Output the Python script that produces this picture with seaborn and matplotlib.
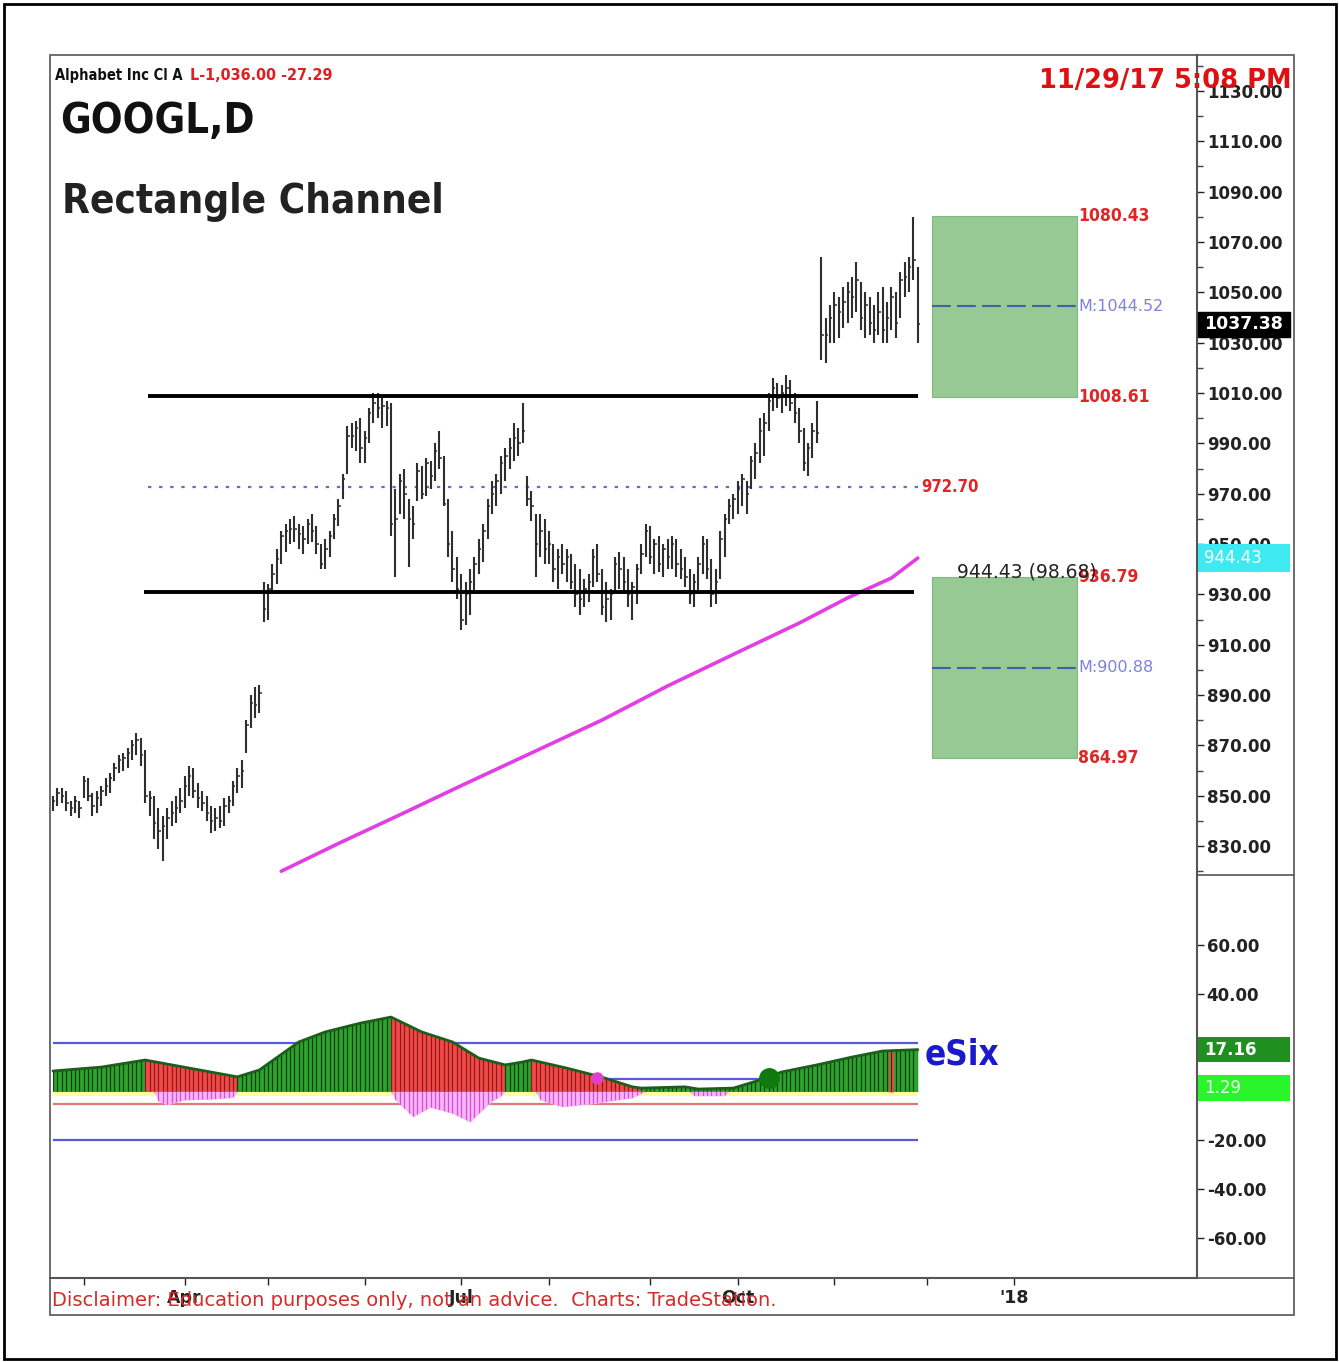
import numpy as np
import pandas as pd
import matplotlib
matplotlib.use('Agg')
import matplotlib.pyplot as plt
import matplotlib.transforms as mtransforms
from matplotlib.patches import Rectangle, Polygon
from matplotlib.lines import Line2D
import seaborn as sns

sns.set_style('white')
plt.rcParams['font.family'] = ['DejaVu Sans']
COND = dict(family='DejaVu Sans', fontstretch='condensed', weight='bold')

########## data ##########
holidays = pd.to_datetime(['2017-02-20', '2017-04-14', '2017-05-29', '2017-07-04',
                           '2017-09-04', '2017-11-23', '2017-12-25', '2018-01-01'])
sessions = pd.bdate_range('2017-02-17', '2018-03-30')
sessions = sessions[~sessions.isin(holidays)]

# daily bars GOOGL, 2017-02-17 .. 2017-11-29 (one group = one week)
high = [850, 853, 853, 852, 848,  850, 848, 858, 857, 851,  852, 854, 857, 859, 863,
        866, 867, 869, 872, 875,  873, 868, 852, 850, 845,  842, 845, 848, 850, 853,
        858, 862, 861, 855, 852,  850, 846, 845, 846, 849,  850, 856, 861, 864, 880,
        890, 893, 894, 935, 934,  942, 948, 955, 958, 960,  961, 958, 957, 960, 962,
        957, 950, 952, 955, 962,  968, 978, 997, 998, 999,  1000, 995, 1004, 1010, 1010,
        1008, 1007, 1006, 972, 978,  980, 968, 965, 982, 981,  984, 983, 990, 995, 985,
        968, 955, 945, 938, 935,  940, 945, 952, 958, 968,  975, 978, 985, 988, 992,
        998, 996, 1006, 977, 971,  962, 962, 960, 955, 950,  948, 950, 948, 946, 942,
        940, 936, 938, 948, 950,  940, 935, 932, 945, 947,  945, 940, 935, 942, 950,
        958, 957, 952, 953, 950,  952, 953, 952, 948, 945,  940, 938, 945, 953, 952,
        944, 940, 955, 962, 968,  970, 975, 978, 975, 985,  990, 1000, 1002, 1010, 1016,
        1014, 1013, 1017, 1015, 1010,  1004, 996, 990, 998, 1007,  1064, 1040, 1045, 1050, 1048,
        1052, 1054, 1056, 1062, 1054,  1050, 1048, 1045, 1050, 1052,  1046, 1052, 1050, 1058, 1062,
        1064, 1080, 1060]
low = [844, 846, 847, 844, 842,  843, 841, 849, 848, 842,  843, 846, 850, 851, 856,
       859, 860, 861, 864, 866,  862, 847, 842, 833, 829,  824, 833, 838, 839, 843,
       845, 850, 849, 845, 844,  840, 835, 836, 837, 838,  843, 846, 851, 853, 867,
       877, 881, 883, 919, 920,  930, 934, 942, 947, 950,  951, 948, 946, 950, 951,
       946, 940, 940, 945, 952,  957, 968, 978, 988, 987,  982, 982, 990, 998, 1000,
       996, 997, 953, 937, 962,  960, 941, 952, 967, 968,  969, 972, 975, 980, 965,
       945, 935, 928, 916, 918,  922, 930, 938, 943, 952,  962, 965, 970, 975, 980,
       983, 985, 990, 965, 959,  937, 945, 942, 942, 935,  932, 938, 935, 932, 925,
       922, 925, 927, 933, 935,  922, 919, 920, 930, 932,  930, 925, 920, 926, 938,
       945, 942, 938, 939, 937,  940, 940, 937, 936, 933,  926, 925, 930, 938, 936,
       925, 926, 936, 945, 958,  960, 962, 965, 962, 972,  976, 982, 985, 995, 1003,
       1004, 1002, 1005, 1003, 998,  990, 979, 977, 984, 990,  1023, 1022, 1030, 1030, 1032,
       1036, 1038, 1040, 1042, 1035,  1032, 1033, 1030, 1033, 1030,  1030, 1035, 1032, 1040, 1048,
       1050, 1055, 1030]
close = [848, 851, 850, 847, 845,  848, 845, 856, 850, 846,  849, 852, 854, 857, 861,
         864, 865, 867, 870, 872,  866, 850, 849, 839, 836,  838, 841, 843, 845, 848,
         854, 858, 852, 849, 847,  843, 840, 841, 840, 846,  848, 854, 858, 860, 878,
         887, 886, 891, 924, 932,  938, 944, 953, 955, 956,  956, 954, 952, 958, 955,
         950, 942, 948, 953, 960,  965, 976, 993, 993, 996,  988, 992, 1002, 1006, 1004,
         1005, 1004, 958, 960, 975,  970, 960, 958, 979, 970,  982, 977, 987, 984, 966,
         950, 940, 932, 920, 930,  935, 942, 948, 955, 965,  970, 975, 982, 985, 988,
         992, 990, 995, 968, 965,  950, 955, 948, 950, 940,  945, 942, 945, 935, 930,
         928, 932, 935, 945, 938,  925, 928, 930, 942, 940,  935, 930, 933, 940, 946,
         955, 945, 950, 942, 948,  945, 950, 942, 940, 937,  930, 935, 942, 950, 940,
         930, 935, 952, 960, 965,  968, 972, 976, 970, 983,  986, 995, 998, 1007, 1012,
         1008, 1010, 1012, 1006, 1002,  995, 982, 988, 995, 994,  1033, 1033, 1040, 1045, 1042,
         1046, 1050, 1048, 1055, 1040,  1045, 1038, 1035, 1042, 1035,  1040, 1048, 1038, 1055, 1056,
         1060, 1063, 1037.38]

# moving average line (bar index, value)
ma_idx = [52, 65, 79, 93, 109, 125, 140, 156, 170, 181, 191, 197]
ma_val = [820, 831, 842.4, 854, 867, 880, 893.6, 907, 918.6, 928.6, 936.5, 944.43]

channel_top = 1008.8
channel_bot = 930.95
channel_mid = 972.70

box_hi = [1080.43, 936.79]
box_mid = [1044.52, 900.88]
box_lo = [1008.61, 864.97]

last_price = 1037.38
ma_last = 944.43
ma_label = '944.43 (98.68)'

# eSix oscillator (bar index, value)
esix_idx = [0, 11, 21, 31, 42, 47, 56, 62, 70, 77, 84, 91, 97, 103, 107, 109, 117,
            125, 132, 134, 144, 147, 155, 161, 166, 174, 182, 189, 197]
esix_val = [8.4, 10.0, 12.9, 9.6, 6.0, 8.8, 20.3, 24.4, 28.0, 30.5, 24.4, 20.3, 13.7,
            10.9, 12.1, 12.9, 9.6, 5.9, 1.9, 1.4, 1.9, 1.0, 1.4, 4.7, 8.0, 10.9, 14.1,
            16.6, 17.16]
# colour runs of the histogram: (start, end, rising?)
esix_runs = [(0, 21, True), (21, 42, False), (42, 77, True), (77, 103, False),
             (103, 109, True), (109, 134, False), (134, 197, True)]
red_bar = (191, 16.8)
esix_neg_idx = [0, 23, 24, 26, 30, 36, 41, 42, 77, 78, 82, 86, 91, 95, 100, 102, 103,
                110, 111, 116, 123, 132, 135, 145, 146, 153, 154, 197]
esix_neg_val = [0, 0, -4.0, -5.5, -3.5, -3.2, -2.5, 0, 0, -3.5, -10.4, -6.5, -9.0, -12.5,
                -4.0, -2.0, 0, 0, -3.5, -6.3, -5.0, -2.6, 0, 0, -1.8, -1.8, 0, 0]
esix_levels_blue = [20, 5, -20]
esix_level_red = -5
dot_magenta = (124, 5.5)
dot_green = (163, 5.5)
esix_last = 17.16
signal_last = 1.29

qtr_dates = ['2017-04-03', '2017-07-03', '2017-10-02', '2018-01-02']
qtr_labels = ['Apr', 'Jul', 'Oct', "'18"]
month_dates = ['2017-03-01', '2017-05-01', '2017-06-01', '2017-08-01', '2017-09-01',
               '2017-11-01', '2017-12-01']

########## layout ##########
W, H = 1339, 1362


def fx(px):
    return px / W


def fy(py):
    return 1 - py / H


fig = plt.figure(figsize=(W / 100, H / 100), dpi=100)
ax = fig.add_axes([fx(50), fy(875), fx(1197) - fx(50), fy(55) - fy(875)])
axi = fig.add_axes([fx(50), fy(1278), fx(1197) - fx(50), fy(875) - fy(1278)], sharex=ax)

x = np.arange(len(close))
bar_col = '#2e2e2e'
ax.vlines(x, low, high, color=bar_col, lw=1.5, zorder=3)
ax.hlines(close, x, x + 0.55, color=bar_col, lw=1.1, zorder=3)

sns.lineplot(x=ma_idx, y=ma_val, ax=ax, color='#e33ee3', lw=2.6, zorder=4)

x_end = len(close) - 1
ax.hlines(channel_top, 21.6, x_end, color='black', lw=2.8, zorder=5)
ax.hlines(channel_bot, 20.7, x_end - 0.9, color='black', lw=2.8, zorder=5)
ax.hlines(channel_mid, 21.6, x_end, color='#6a6ac8', lw=1.6, linestyles=(0, (1.5, 3.5)), zorder=2)

bx0, bx1 = 200.2, 233.3
for hi, mid, lo in zip(box_hi, box_mid, box_lo):
    ax.add_patch(Rectangle((bx0, lo), bx1 - bx0, hi - lo, fc='#96c993', ec='#80b880', lw=0.8, zorder=2))
    ax.hlines(mid, bx0, bx1, color='#3d62a8', lw=1.5, linestyles=(0, (9, 3)), zorder=3)
    ax.text(bx1 + 0.3, hi, f'{hi:.2f}', color='#e02525', fontsize=12.5, va='center', ha='left', **COND)
    ax.text(bx1 + 0.3, lo, f'{lo:.2f}', color='#e02525', fontsize=12.5, va='center', ha='left', **COND)
    ax.text(bx1 + 0.3, mid, f'M:{mid:.2f}', color='#8080de', fontsize=11.5, va='center', ha='left')

ax.text(x_end + 0.7, channel_mid, f'{channel_mid:.2f}', color='#e02525', fontsize=12,
        va='center', ha='left', **COND)
ax.text(206, 938.9, ma_label, color='#222222', fontsize=13.5, va='center', ha='left', zorder=6)

ax.set_xlim(-0.68, 260.6)
ax.set_ylim(818.5, 1144.3)
ax.yaxis.tick_right()
yt = np.arange(830, 1131, 20)
ax.set_yticks(yt)
ax.set_yticklabels([f'{v:.2f}' for v in yt], fontweight='bold', fontsize=12)
ax.set_yticks(np.arange(820, 1141, 10), minor=True)
ax.tick_params(axis='y', which='major', direction='out', length=5, width=1, pad=2, colors='#222222')
ax.tick_params(axis='y', which='minor', direction='out', length=4, width=1, colors='#444444')
ax.tick_params(axis='x', which='both', bottom=False, labelbottom=False)
for s in ['left', 'top', 'bottom']:
    ax.spines[s].set_visible(False)
ax.spines['right'].set_color('#555555')
ax.spines['right'].set_linewidth(1.5)
ax.grid(False)

trans = mtransforms.blended_transform_factory(ax.transAxes, ax.transData)
tag_w = 92 / 1147
ax.add_patch(Rectangle((1.001, last_price - 5), tag_w, 10, transform=trans, fc='black',
                       ec='black', clip_on=False, zorder=10))
ax.text(1.006, last_price, f'{last_price:.2f}', transform=trans, color='white', weight='bold',
        fontsize=12.5, va='center', ha='left', zorder=11, clip_on=False)
ax.add_patch(Rectangle((1.001, ma_last - 5.4), tag_w, 10.8, transform=trans, fc='#3fe9f2',
                       ec='none', clip_on=False, zorder=10))
ax.text(1.006, ma_last, f'{ma_last:.2f}', transform=trans, color='white', fontsize=12,
        va='center', ha='left', zorder=11, clip_on=False)

########## eSix panel ##########
ei = np.array(esix_idx, dtype=float)
ev = np.array(esix_val, dtype=float)
axi.fill_between([0, x_end], -2, 0, color='#ffff99', lw=0, zorder=1)
for lvl in esix_levels_blue:
    axi.hlines(lvl, 0, x_end, color='#5a5ad8', lw=1.6, zorder=1.5)
axi.hlines(esix_level_red, 0, x_end, color='#e07878', lw=1.6, zorder=1.5)

stripe_col = np.empty(len(close), dtype=object)
for s, e, up in esix_runs:
    m = (ei >= s) & (ei <= e)
    axi.fill_between(ei[m], 0, ev[m], color='#2ea32e' if up else '#f24848', lw=0, zorder=2)
    stripe_col[s:e + 1] = '#0b420b' if up else '#8c1c1c'
axi.vlines(red_bar[0], 0, red_bar[1], color='#f24848', lw=3.5, zorder=2.1)

pos_poly = Polygon(np.column_stack([np.r_[ei[0], ei, ei[-1]], np.r_[0, ev, 0]]),
                   closed=True, fc='none', ec='none')
axi.add_patch(pos_poly)
stripes = axi.vlines(x, -1, 40, colors=list(stripe_col), lw=0.9, zorder=2.5)
stripes.set_clip_path(pos_poly)

ni = np.array(esix_neg_idx, dtype=float)
nv = np.array(esix_neg_val, dtype=float)
axi.fill_between(ni, nv, 0, color='#f5b8f5', lw=0, zorder=2)
neg_poly = Polygon(np.column_stack([ni, nv]), closed=True, fc='none', ec='none')
axi.add_patch(neg_poly)
nstripes = axi.vlines(x, -20, 0.5, colors='#d84cd8', lw=0.9, zorder=2.5)
nstripes.set_clip_path(neg_poly)

sns.lineplot(x=esix_idx, y=esix_val, ax=axi, color='#1c5e1c', lw=2.0, zorder=3)
axi.plot(*dot_magenta, 'o', color='#e040c8', ms=8, zorder=4)
axi.plot(*dot_green, 'o', color='#0e7a0e', ms=14, zorder=4)

axi.text(198.6, 15, 'eSix', color='#1a1acc', fontsize=25, va='center', ha='left', **COND)

axi.set_ylim(-76.4, 88.7)
axi.yaxis.tick_right()
it = [60, 40, -20, -40, -60]
axi.set_yticks(it)
axi.set_yticklabels([f'{v:.2f}' for v in it], fontweight='bold', fontsize=12)
axi.tick_params(axis='y', direction='out', length=5, width=1, pad=2, colors='#222222')

qtr_pos = [sessions.searchsorted(pd.Timestamp(d)) for d in qtr_dates]
month_pos = [sessions.searchsorted(pd.Timestamp(d)) for d in month_dates]
axi.set_xticks(qtr_pos)
axi.set_xticklabels(qtr_labels, fontweight='bold', fontsize=12.5)
axi.set_xticks(month_pos, minor=True)
axi.tick_params(axis='x', which='both', direction='out', length=5, width=1, pad=3,
                colors='#222222', bottom=True, labelbottom=True)
axi.set_xlim(-0.68, 260.6)
for s in ['left', 'top']:
    axi.spines[s].set_visible(False)
for s in ['right', 'bottom']:
    axi.spines[s].set_color('#555555')
    axi.spines[s].set_linewidth(1.5)
axi.grid(False)

transi = mtransforms.blended_transform_factory(axi.transAxes, axi.transData)
axi.add_patch(Rectangle((1.001, esix_last - 5.1), tag_w, 10.2, transform=transi, fc='#1f8f1f',
                        ec='none', clip_on=False, zorder=10))
axi.text(1.006, esix_last, f'{esix_last:.2f}', transform=transi, color='white', weight='bold',
         fontsize=12, va='center', ha='left', zorder=11, clip_on=False)
axi.add_patch(Rectangle((1.001, signal_last - 5.3), tag_w, 10.6, transform=transi, fc='#2af52a',
                        ec='none', clip_on=False, zorder=10))
axi.text(1.006, signal_last, f'{signal_last:.2f}', transform=transi, color='#eaffea',
         fontsize=12, va='center', ha='left', zorder=11, clip_on=False)

########## frame and titles ##########
fig.add_artist(Rectangle((fx(4), fy(1359)), fx(1336) - fx(4), fy(4) - fy(1359),
                         transform=fig.transFigure, fill=False, ec='black', lw=2))
fig.add_artist(Rectangle((fx(50), fy(1315)), fx(1294) - fx(50), fy(55) - fy(1315),
                         transform=fig.transFigure, fill=False, ec='#555555', lw=1.2))
for py in [875, 1278]:
    fig.add_artist(Line2D([fx(1197), fx(1294)], [fy(py), fy(py)], transform=fig.transFigure,
                          color='#555555', lw=1.2))

fig.text(fx(55), fy(80), 'Alphabet Inc Cl A', fontsize=10.5, color='#111111', va='baseline', **COND)
fig.text(fx(190), fy(80), 'L-1,036.00 -27.29', fontsize=11.5, color='#e02020', va='baseline', **COND)
fig.text(fx(60), fy(133), 'GOOGL,D', fontsize=30, color='#111111', va='baseline', **COND)
fig.text(fx(62), fy(213), 'Rectangle Channel', fontsize=29, color='#222222', va='baseline', **COND)
fig.text(fx(1292), fy(88), '11/29/17 5:08 PM', weight='bold', fontsize=18.5,
         color='#dd1111', ha='right', va='baseline')
fig.text(fx(52), fy(1306), 'Disclaimer: Education purposes only, not an advice.  Charts: TradeStation.',
         color='#d42a2a', fontsize=14, va='baseline')

fig.savefig('out.png', dpi=100)
plt.close(fig)
